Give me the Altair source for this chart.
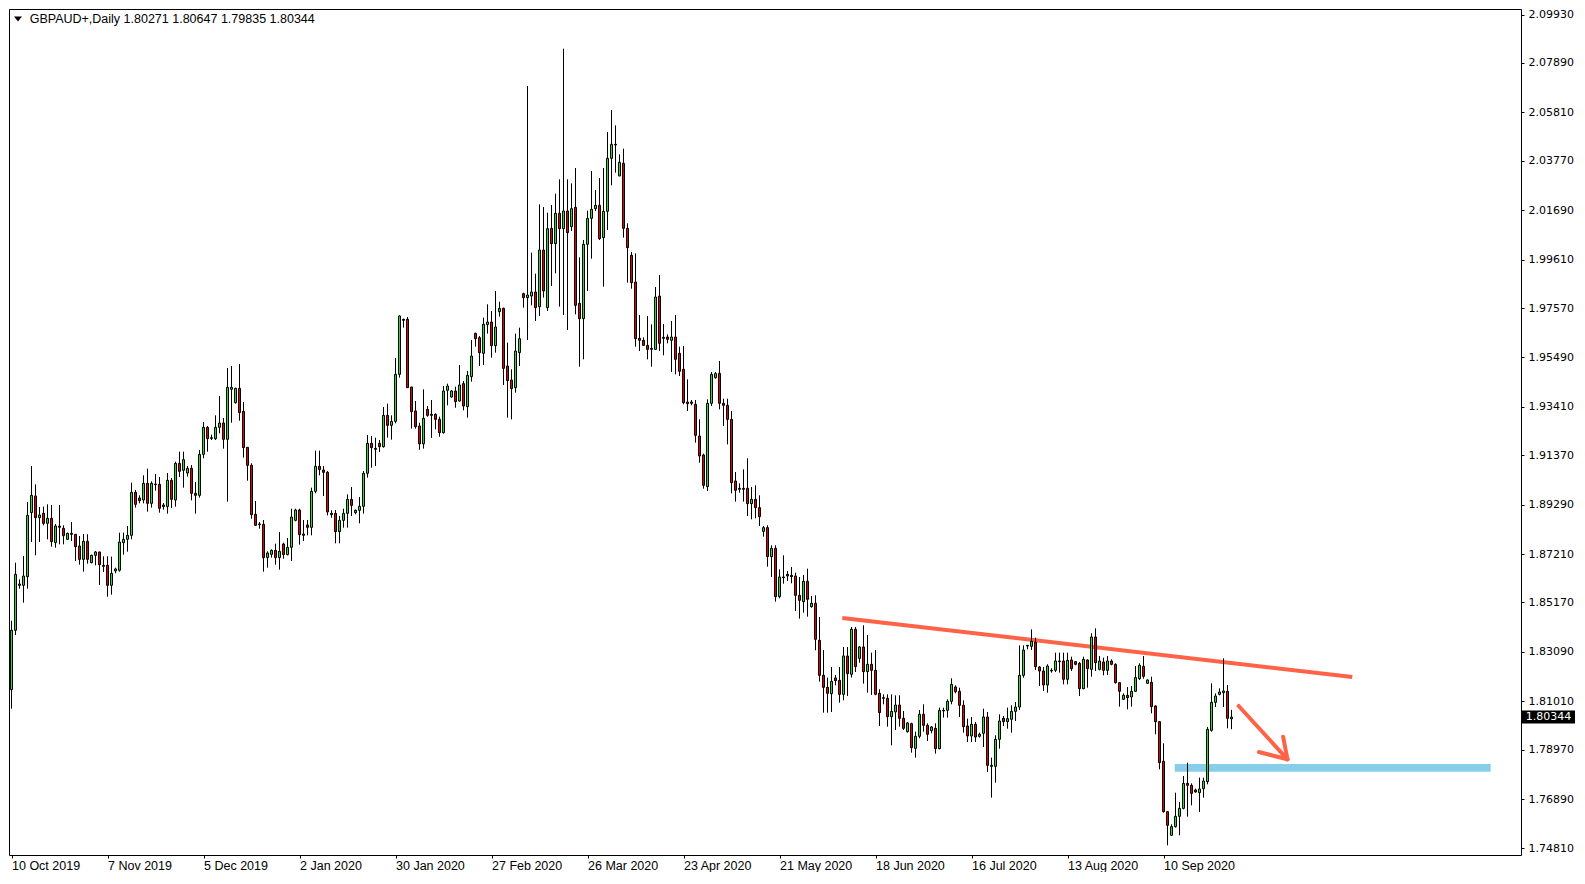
import json
import altair as alt
import pandas as pd

symbol = "GBPAUD+,Daily"

opens = [
    1.8150, 1.8400, 1.85892, 1.85892, 1.86257, 1.88952, 1.89654, 1.88741, 1.88924, 1.88503,
    1.88713, 1.87689, 1.88390, 1.88292, 1.87829, 1.88082, 1.88040, 1.87548, 1.86987, 1.87745,
    1.86846, 1.87156, 1.87296, 1.86734, 1.86734, 1.85892, 1.86496, 1.86524, 1.87689, 1.87829,
    1.87998, 1.89808, 1.89570, 1.89485, 1.90187, 1.89345, 1.90159, 1.90145, 1.89275, 1.89205,
    1.90313, 1.89485, 1.91029, 1.90735, 1.90622, 1.90819, 1.89766, 1.89682, 1.91408, 1.92545,
    1.92082, 1.92068, 1.92545, 1.92728, 1.92040, 1.94146, 1.93584, 1.94188, 1.93219, 1.91703,
    1.90945, 1.88882, 1.88475, 1.88461, 1.87057, 1.87197, 1.87366, 1.87057, 1.87633, 1.87184,
    1.87492, 1.88629, 1.89064, 1.88054, 1.88433, 1.88334, 1.89850, 1.90903, 1.90749, 1.90650,
    1.88924, 1.88924, 1.88152, 1.88629, 1.88924, 1.89513, 1.88952, 1.89050, 1.89219, 1.90608,
    1.91872, 1.91661, 1.91872, 1.91731, 1.93051, 1.92630, 1.92798, 1.94777, 1.97094, 1.97094,
    1.94244, 1.93233, 1.92602, 1.91850, 1.93304, 1.93093, 1.93093, 1.92883, 1.92321, 1.94104,
    1.93823, 1.94076, 1.93655, 1.94385, 1.93416, 1.94679, 1.96504, 1.96322, 1.95662, 1.96869,
    1.96981, 1.95985, 1.97417, 1.97557, 1.95128, 1.94539, 1.94216, 1.95690, 1.98174, 1.98006,
    1.98076, 1.98245, 1.97627, 2.00013, 1.97585, 2.00926, 2.00280, 2.01557, 2.00912, 2.01656,
    2.00996, 2.01810, 1.97767, 1.97121, 2.00252, 2.01346, 2.01754, 2.01894, 2.00532, 2.01641,
    2.03873, 2.04463, 2.03129, 2.03663, 2.00925, 1.99788, 1.98665, 1.96293, 1.96209, 1.95998,
    1.95872, 1.95830, 1.98076, 1.96335, 1.96349, 1.96209, 1.96349, 1.95661, 1.94988, 1.93612,
    1.93612, 1.93514, 1.92180, 1.91380, 1.90047, 1.93556, 1.94637, 1.94820, 1.93556, 1.93472,
    1.92883, 1.90286, 1.89977, 1.89977, 1.89977, 1.89332, 1.89514, 1.89163, 1.88166, 1.88321,
    1.87100, 1.87451, 1.85415, 1.86244, 1.86356, 1.86314, 1.86286, 1.85471, 1.85205, 1.86061,
    1.84994, 1.85135, 1.83577, 1.82103, 1.81597, 1.81331, 1.81991, 1.81892, 1.81303, 1.82917,
    1.82145, 1.84040, 1.82818, 1.83296, 1.82257, 1.82566, 1.82313, 1.81345, 1.81162, 1.81134,
    1.80362, 1.80558, 1.80853, 1.80292, 1.79730, 1.80067, 1.79028, 1.79534, 1.80460, 1.79997,
    1.79772, 1.79870, 1.79014, 1.80600, 1.80628, 1.81007, 1.81611, 1.81429, 1.80839, 1.79969,
    1.79548, 1.80039, 1.79534, 1.79660, 1.80348, 1.78312, 1.78270, 1.79407, 1.80292, 1.80151,
    1.80249, 1.80586, 1.80769, 1.82102, 1.83338, 1.83324, 1.83506, 1.82453, 1.82285, 1.81695,
    1.82285, 1.82313, 1.82678, 1.82706, 1.81934, 1.82748, 1.82678, 1.82608, 1.81541, 1.82748,
    1.82355, 1.83717, 1.82355, 1.82664, 1.82313, 1.82706, 1.82566, 1.81794, 1.81092, 1.81260,
    1.81190, 1.81429, 1.81962, 1.82481, 1.81765, 1.81808, 1.80811, 1.80151, 1.78481, 1.76361,
    1.75365, 1.75730, 1.76165, 1.76502, 1.77554, 1.77470, 1.77274, 1.77161, 1.77330, 1.77625,
    1.79786, 1.80965, 1.81302, 1.81372, 1.81429, 1.80271,
]

highs = [
    1.8440, 1.86846, 1.86144, 1.87128, 1.89401, 1.90917, 1.90145, 1.89191, 1.89205, 1.89303,
    1.89275, 1.88475, 1.89275, 1.88419, 1.88110, 1.88559, 1.88040, 1.87970, 1.88054, 1.88040,
    1.87184, 1.87338, 1.87310, 1.87114, 1.87114, 1.87099, 1.86636, 1.88110, 1.88110, 1.88390,
    1.90215, 1.89906, 1.89682, 1.90524, 1.90805, 1.90271, 1.90580, 1.90454, 1.89359, 1.90622,
    1.90412, 1.91099, 1.91521, 1.91521, 1.90917, 1.90959, 1.90243, 1.91591, 1.92770, 1.92601,
    1.92237, 1.93051, 1.93865, 1.92938, 1.95044, 1.95128, 1.94216, 1.95212, 1.93612, 1.91703,
    1.91030, 1.89443, 1.88559, 1.88643, 1.87324, 1.87408, 1.87647, 1.88138, 1.87689, 1.87885,
    1.89120, 1.89120, 1.89120, 1.88643, 1.88643, 1.90005, 1.91563, 1.91563, 1.90917, 1.90707,
    1.89050, 1.89064, 1.88812, 1.89120, 1.89724, 1.90033, 1.89092, 1.89612, 1.90707, 1.92223,
    1.92180, 1.92110, 1.92012, 1.93402, 1.93542, 1.93051, 1.95465, 1.97262, 1.97122, 1.97192,
    1.94244, 1.93655, 1.92742, 1.94146, 1.93444, 1.93697, 1.93135, 1.92995, 1.94286, 1.94385,
    1.94118, 1.94258, 1.95170, 1.94497, 1.94918, 1.96223, 1.96532, 1.96392, 1.97164, 1.97725,
    1.97445, 1.98287, 1.97837, 1.97585, 1.96111, 1.94988, 1.96490, 1.96743, 1.98217, 2.06919,
    1.99901, 1.99017, 2.01936, 2.01824, 2.01585, 2.01908, 2.02386, 2.02989, 2.08492, 2.02989,
    2.02820, 2.03466, 1.99704, 2.00434, 2.01669, 2.03340, 2.02540, 2.03045, 2.03466, 2.04982,
    2.05908, 2.05263, 2.04042, 2.04280, 2.01136, 1.99929, 1.99873, 1.97276, 1.96335, 1.97234,
    1.96883, 1.98455, 1.98960, 1.96897, 1.96462, 1.97023, 1.97276, 1.95942, 1.95970, 1.94567,
    1.93696, 1.93696, 1.92882, 1.91436, 1.93724, 1.94876, 1.94876, 1.95339, 1.93752, 1.93752,
    1.93234, 1.90665, 1.90188, 1.90777, 1.91241, 1.90033, 1.90104, 1.89683, 1.88391, 1.88419,
    1.87577, 1.87577, 1.86566, 1.87156, 1.86496, 1.86664, 1.86426, 1.86244, 1.86328, 1.86594,
    1.85443, 1.85471, 1.84559, 1.83169, 1.82005, 1.82454, 1.82117, 1.82454, 1.83296, 1.83296,
    1.84138, 1.84138, 1.83338, 1.84208, 1.83801, 1.83057, 1.83169, 1.81513, 1.81303, 1.81302,
    1.81302, 1.81260, 1.81260, 1.80600, 1.80137, 1.80109, 1.79730, 1.80643, 1.80881, 1.80081,
    1.79969, 1.80081, 1.80741, 1.80741, 1.81092, 1.81976, 1.81681, 1.81583, 1.81050, 1.80277,
    1.80348, 1.80137, 1.79688, 1.80699, 1.80558, 1.78635, 1.79576, 1.80460, 1.80390, 1.80741,
    1.80839, 1.80979, 1.83366, 1.83366, 1.83380, 1.84039, 1.83689, 1.82495, 1.82453, 1.82566,
    1.82397, 1.83057, 1.83057, 1.83057, 1.83057, 1.82888, 1.82706, 1.82664, 1.82888, 1.82776,
    1.83871, 1.84082, 1.82916, 1.82846, 1.82916, 1.82776, 1.82608, 1.81822, 1.81344, 1.81611,
    1.81653, 1.82495, 1.82608, 1.82916, 1.81934, 1.82046, 1.80839, 1.80179, 1.79239, 1.76389,
    1.75828, 1.77161, 1.76768, 1.77863, 1.78425, 1.77554, 1.77330, 1.77793, 1.77793, 1.79927,
    1.81765, 1.81344, 1.81555, 1.82818, 1.81695, 1.80647,
]

lows = [
    1.8070, 1.8380, 1.85752, 1.85162, 1.85752, 1.87717, 1.87156, 1.87717, 1.88419, 1.87829,
    1.87520, 1.87478, 1.87619, 1.87619, 1.87801, 1.87759, 1.86917, 1.86762, 1.86467, 1.86804,
    1.86818, 1.86734, 1.85906, 1.86453, 1.85415, 1.85499, 1.86397, 1.86467, 1.87184, 1.87310,
    1.87829, 1.89163, 1.89345, 1.89345, 1.88994, 1.89163, 1.89878, 1.88952, 1.89079, 1.88910,
    1.89149, 1.89205, 1.90454, 1.90005, 1.90468, 1.89471, 1.88910, 1.89584, 1.91240, 1.91521,
    1.92012, 1.92012, 1.92293, 1.91647, 1.89415, 1.92742, 1.93542, 1.92826, 1.91268, 1.90299,
    1.88699, 1.88390, 1.88278, 1.86467, 1.86636, 1.87057, 1.86762, 1.86552, 1.87015, 1.87156,
    1.86917, 1.88587, 1.87605, 1.87759, 1.87998, 1.87998, 1.89766, 1.90524, 1.89654, 1.88840,
    1.88741, 1.87661, 1.87661, 1.88320, 1.88320, 1.88812, 1.88882, 1.88503, 1.88910, 1.90426,
    1.90847, 1.90917, 1.91507, 1.91689, 1.92110, 1.92026, 1.92714, 1.94637, 1.96743, 1.94216,
    1.92490, 1.92490, 1.91600, 1.91650, 1.92995, 1.92100, 1.92461, 1.92150, 1.92279, 1.93472,
    1.93795, 1.93374, 1.93627, 1.93261, 1.92953, 1.94469, 1.95943, 1.95128, 1.95170, 1.96490,
    1.95479, 1.95690, 1.97206, 1.94328, 1.92953, 1.92883, 1.94005, 1.95128, 1.97585, 1.96223,
    1.97683, 1.97024, 1.97234, 1.98006, 1.97445, 1.98497, 1.99031, 1.97627, 1.97276, 1.96645,
    2.00813, 1.97304, 1.95100, 1.95409, 1.98286, 1.99648, 2.01655, 2.00434, 1.98469, 2.00855,
    2.02736, 2.03270, 2.03129, 2.00532, 1.98637, 1.98385, 1.95942, 1.95760, 1.95970, 1.95409,
    1.95100, 1.95802, 1.95760, 1.95577, 1.96083, 1.94876, 1.94777, 1.94707, 1.93514, 1.93233,
    1.93472, 1.91900, 1.91057, 1.89963, 1.89865, 1.93444, 1.94595, 1.93303, 1.92601, 1.91829,
    1.89767, 1.89416, 1.89795, 1.89416, 1.88812, 1.88672, 1.88714, 1.88391, 1.87942, 1.86678,
    1.86244, 1.85205, 1.85345, 1.85963, 1.86075, 1.85977, 1.84812, 1.84489, 1.84741, 1.84573,
    1.84952, 1.83155, 1.81836, 1.80530, 1.80530, 1.80558, 1.81682, 1.80951, 1.81050, 1.81232,
    1.82005, 1.82243, 1.82636, 1.81752, 1.81373, 1.81275, 1.81261, 1.79969, 1.80881, 1.79941,
    1.79154, 1.79800, 1.79941, 1.79800, 1.79688, 1.78846, 1.78635, 1.79449, 1.79730, 1.79337,
    1.79660, 1.78804, 1.78986, 1.80320, 1.80320, 1.80881, 1.81344, 1.80348, 1.79688, 1.79295,
    1.79295, 1.79295, 1.79477, 1.79084, 1.78032, 1.76951, 1.77582, 1.79014, 1.79969, 1.79856,
    1.79688, 1.80179, 1.80643, 1.82004, 1.83197, 1.83169, 1.82327, 1.81653, 1.81443, 1.81372,
    1.82215, 1.82243, 1.82215, 1.81723, 1.81723, 1.82285, 1.82524, 1.81232, 1.81513, 1.81583,
    1.82046, 1.82285, 1.82313, 1.82102, 1.82116, 1.82524, 1.81751, 1.80783, 1.81064, 1.80671,
    1.80783, 1.81400, 1.81906, 1.81962, 1.81737, 1.80502, 1.79618, 1.78144, 1.76319, 1.74944,
    1.75337, 1.75688, 1.75365, 1.76459, 1.76151, 1.76628, 1.77161, 1.76347, 1.76951, 1.77512,
    1.79730, 1.80769, 1.81260, 1.80769, 1.79870, 1.79835,
]

closes = [
    1.8400, 1.86355, 1.85948, 1.86285, 1.88840, 1.89682, 1.88741, 1.88854, 1.88503, 1.88713,
    1.87731, 1.88390, 1.88334, 1.87984, 1.88082, 1.88040, 1.87520, 1.86987, 1.87745, 1.86987,
    1.87156, 1.87296, 1.86762, 1.86692, 1.85892, 1.86397, 1.86580, 1.87717, 1.87829, 1.87998,
    1.89808, 1.89303, 1.89457, 1.90187, 1.89345, 1.90187, 1.90131, 1.89135, 1.89205, 1.90313,
    1.89513, 1.91029, 1.90693, 1.91184, 1.90819, 1.89766, 1.89682, 1.91408, 1.92545, 1.92068,
    1.92110, 1.92545, 1.92728, 1.92040, 1.94230, 1.94230, 1.94188, 1.93163, 1.91689, 1.90945,
    1.88868, 1.88419, 1.88447, 1.87057, 1.87253, 1.87366, 1.87057, 1.87324, 1.87184, 1.87492,
    1.88770, 1.89064, 1.88026, 1.87998, 1.88334, 1.89850, 1.90903, 1.90763, 1.90650, 1.88980,
    1.88868, 1.88152, 1.88629, 1.88924, 1.89513, 1.89261, 1.89050, 1.89219, 1.90608, 1.91872,
    1.91689, 1.91619, 1.91731, 1.93051, 1.92630, 1.92798, 1.94777, 1.97234, 1.97052, 1.94216,
    1.93205, 1.92574, 1.91850, 1.92925, 1.93051, 1.93051, 1.92883, 1.92321, 1.94076, 1.94286,
    1.94076, 1.93627, 1.94328, 1.93444, 1.94735, 1.95549, 1.96279, 1.95690, 1.96883, 1.96981,
    1.95985, 1.96771, 1.97557, 1.95030, 1.94511, 1.94174, 1.95760, 1.96279, 1.98006, 1.98118,
    1.98245, 1.97585, 2.00013, 1.98287, 2.00912, 2.00280, 2.01557, 2.00912, 2.01656, 2.00743,
    2.01754, 1.97683, 1.97121, 2.00252, 2.01346, 2.01726, 2.01894, 2.00490, 2.01641, 2.03873,
    2.04463, 2.04435, 2.03705, 2.00925, 2.00111, 1.98637, 1.96279, 1.96209, 1.95998, 1.95830,
    1.95830, 1.98034, 1.96083, 1.96293, 1.96251, 1.96349, 1.95409, 1.94904, 1.93584, 1.93542,
    1.93556, 1.92208, 1.91338, 1.90103, 1.93556, 1.94777, 1.94806, 1.93556, 1.93472, 1.92882,
    1.90216, 1.89893, 1.89935, 1.89935, 1.89332, 1.89514, 1.89163, 1.88784, 1.88321, 1.87100,
    1.87451, 1.85415, 1.86244, 1.86215, 1.86286, 1.86258, 1.85471, 1.85261, 1.86061, 1.85303,
    1.85135, 1.83619, 1.82103, 1.81597, 1.81345, 1.81850, 1.81878, 1.81303, 1.82917, 1.82173,
    1.84040, 1.82468, 1.83296, 1.82257, 1.82566, 1.82313, 1.81303, 1.80530, 1.81134, 1.80362,
    1.80586, 1.80853, 1.80292, 1.79870, 1.80095, 1.79056, 1.79534, 1.80460, 1.79997, 1.79618,
    1.79927, 1.79014, 1.80628, 1.80628, 1.81007, 1.81723, 1.81415, 1.80839, 1.79941, 1.79548,
    1.80039, 1.79506, 1.79618, 1.80348, 1.78312, 1.78270, 1.79407, 1.80179, 1.80151, 1.80277,
    1.80586, 1.80769, 1.82102, 1.83169, 1.83366, 1.83534, 1.82467, 1.82285, 1.81695, 1.82495,
    1.82313, 1.82706, 1.82706, 1.81934, 1.82734, 1.82383, 1.82566, 1.81541, 1.82776, 1.82383,
    1.83717, 1.82636, 1.82706, 1.82313, 1.82706, 1.82566, 1.81794, 1.81429, 1.81260, 1.81162,
    1.81429, 1.82004, 1.82524, 1.82060, 1.81906, 1.80783, 1.80151, 1.78425, 1.76361, 1.75786,
    1.75730, 1.76165, 1.76502, 1.77554, 1.77470, 1.77133, 1.77189, 1.77316, 1.77653, 1.79828,
    1.80965, 1.81232, 1.81400, 1.81443, 1.80292, 1.80344,
]

date_ticks = [0, 24, 48, 72, 96, 120, 144, 168, 192, 216, 240, 264, 288]
date_labels = ["10 Oct 2019", "7 Nov 2019", "5 Dec 2019", "2 Jan 2020", "30 Jan 2020",
               "27 Feb 2020", "26 Mar 2020", "23 Apr 2020", "21 May 2020", "18 Jun 2020",
               "16 Jul 2020", "13 Aug 2020", "10 Sep 2020"]
price_ticks = [2.09930, 2.07890, 2.05810, 2.03770, 2.01690, 1.99610, 1.97570, 1.95490,
               1.93410, 1.91370, 1.89290, 1.87210, 1.85170, 1.83090, 1.81010, 1.78970,
               1.76890, 1.74810]

# drawn objects (bar index / price)
trend_x = [207.7, 335.2]
trend_p = [1.8452, 1.8203]
arrow_x1 = [306.8, 317.9, 311.84]
arrow_p1 = [1.80811, 1.79518, 1.78874]
arrow_x2 = [318.99, 318.99, 318.99]
arrow_p2 = [1.78566, 1.78566, 1.78566]
zone_x = [290.8, 369.8]
zone_p = [1.78369, 1.78044]

UP = "#22E022"
DOWN = "#E00000"
TOMATO = "#FF6347"
ZONE = "#87CEEB"

n = len(opens)
df = pd.DataFrame({"i": list(range(n)), "open": opens, "high": highs,
                   "low": lows, "close": closes})
df["dir"] = ["up" if c >= o else "down" for o, c in zip(opens, closes)]

xs = alt.Scale(domain=[-0.625, 377.375], nice=False, zero=False, padding=0)
ys = alt.Scale(domain=[1.74536, 2.10162], nice=False, zero=False, padding=0)

label_map = json.dumps({str(t): s for t, s in zip(date_ticks, date_labels)})
x_axis = alt.Axis(values=date_ticks, labelExpr=label_map + "[''+datum.value]",
                  orient="bottom", title=None, grid=False, domain=False,
                  tickColor="black", tickSize=3, labelAlign="left", labelBaseline="top",
                  labelPadding=1, labelFont="Liberation Sans", labelFontSize=12.5,
                  labelColor="black", labelOverlap=False, labelFlush=False)
y_axis = alt.Axis(values=price_ticks, format=".5f", orient="right", title=None,
                  grid=False, domain=False, tickColor="black", tickSize=3,
                  labelAlign="left", labelBaseline="middle", labelPadding=4,
                  labelFont="DejaVu Sans", labelFontSize=11, labelColor="black",
                  labelOverlap=False, labelFlush=False)


def X(f):
    return alt.X(f, scale=xs, axis=x_axis)


def Y(f):
    return alt.Y(f, scale=ys, axis=y_axis)


zone_df = pd.DataFrame({"x1": [zone_x[0]], "x2": [zone_x[1]],
                        "p1": [zone_p[0]], "p2": [zone_p[1]]})
zone = alt.Chart(zone_df).mark_rect(color=ZONE).encode(
    x=X("x1:Q"), x2="x2:Q", y=Y("p1:Q"), y2="p2:Q")

trend_df = pd.DataFrame({"x": trend_x, "p": trend_p})
trend = alt.Chart(trend_df).mark_line(color=TOMATO, strokeWidth=4).encode(
    x=X("x:Q"), y=Y("p:Q"))

arrow_df = pd.DataFrame({"x1": arrow_x1, "p1": arrow_p1, "x2": arrow_x2, "p2": arrow_p2})
arrow = alt.Chart(arrow_df).mark_rule(color=TOMATO, strokeWidth=4, strokeCap="round").encode(
    x=X("x1:Q"), y=Y("p1:Q"), x2="x2:Q", y2="p2:Q")

wicks = alt.Chart(df).mark_rule(color="black", strokeWidth=1).encode(
    x=X("i:Q"), y=Y("low:Q"), y2="high:Q")

bodies = alt.Chart(df).mark_bar(width=2, stroke="black", strokeWidth=1).encode(
    x=X("i:Q"), y=Y("open:Q"), y2="close:Q",
    fill=alt.Fill("dir:N", scale=alt.Scale(domain=["up", "down"], range=[UP, DOWN]),
                  legend=None))

header_text = "{}  {:.5f} {:.5f} {:.5f} {:.5f}".format(
    symbol, opens[-1], highs[-1], lows[-1], closes[-1])
head_df = pd.DataFrame({"t": [header_text]})
header = alt.Chart(head_df).mark_text(
    align="left", baseline="middle", font="Liberation Sans", fontSize=12.5, color="black"
).encode(x=alt.value(20.7), y=alt.value(10), text="t:N")
tri = alt.Chart(head_df).mark_point(
    shape="M-1,-0.6L1,-0.6L0,0.6Z", filled=True, color="black", size=64, opacity=1
).encode(x=alt.value(9), y=alt.value(10))

box_df = pd.DataFrame({"p": [closes[-1]], "lab": ["{:.5f}".format(closes[-1])]})
box = alt.Chart(box_df).mark_point(
    shape="M-1,-0.245L1,-0.245L1,0.245L-1,0.245Z", filled=True, color="black",
    size=2809, opacity=1
).encode(x=alt.value(1539.5), y=Y("p:Q"))
box_text = alt.Chart(box_df).mark_text(
    font="DejaVu Sans", fontSize=11, color="white", align="center", baseline="middle"
).encode(x=alt.value(1539.5), y=Y("p:Q"), text="lab:N")

chart = alt.layer(zone, trend, arrow, wicks, bodies, tri, header, box, box_text).properties(
    width=1512, height=846,
    padding={"left": 1, "top": 1, "right": 54, "bottom": 17},
    autosize=alt.AutoSizeParams(type="none"),
    background="white",
).configure_view(stroke="black", strokeWidth=1)

chart.save("out.html", embed_options={"renderer": "svg", "actions": False})
